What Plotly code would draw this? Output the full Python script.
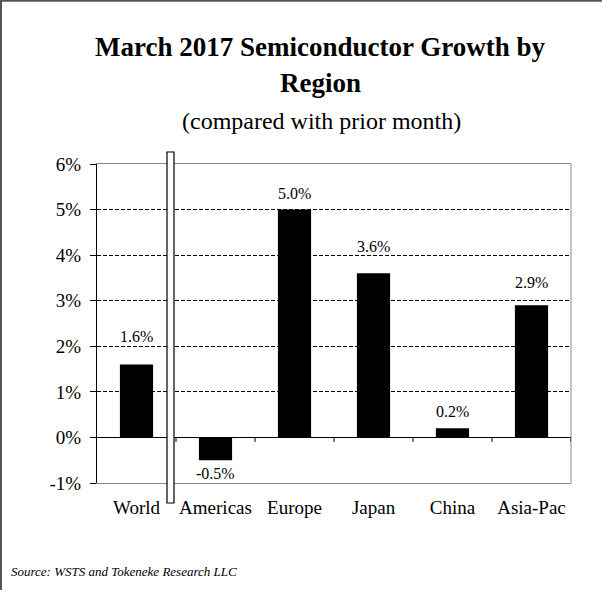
import plotly.graph_objects as go

categories = ["World", "Americas", "Europe", "Japan", "China", "Asia-Pac"]
growth_pct = [1.6, -0.5, 5.0, 3.6, 0.2, 2.9]
label_text = ["1.6%", "-0.5%", "5.0%", "3.6%", "0.2%", "2.9%"]
y_ticks = [-1, 0, 1, 2, 3, 4, 5, 6]
y_tick_text = ["-1%", "0%", "1%", "2%", "3%", "4%", "5%", "6%"]

# label offsets from bar end (pixels), as placed in the original chart
label_offset_px = [28, -13, 16, 27, 17, 23]

W, H = 602, 590
L, R, T, B = 97, 31, 164, 107
PW, PH = W - L - R, H - T - B
SERIF = "Liberation Serif"


def px(xp):
    return (xp - L) / PW


def py(yp):
    return (H - B - yp) / PH


fig = go.Figure()
fig.add_trace(go.Bar(
    x=categories, y=growth_pct,
    marker=dict(color="black", line=dict(color="black", width=0)),
    hoverinfo="skip", showlegend=False,
))

annotations = []
for c, v, t, off in zip(categories, growth_pct, label_text, label_offset_px):
    annotations.append(dict(
        x=c, y=v, xref="x", yref="y", text=t, showarrow=False,
        yshift=off, yanchor="middle",
        font=dict(family=SERIF, size=16, color="black"),
    ))

annotations += [
    dict(x=px(320), y=py(47), xref="paper", yref="paper", showarrow=False,
         text="<b>March 2017 Semiconductor Growth by</b>", xanchor="center", yanchor="middle",
         font=dict(family=SERIF, size=27, color="black")),
    dict(x=px(320), y=py(83), xref="paper", yref="paper", showarrow=False,
         text="<b>Region</b>", xanchor="center", yanchor="middle",
         font=dict(family=SERIF, size=27, color="black")),
    dict(x=px(321), y=py(121), xref="paper", yref="paper", showarrow=False,
         text="(compared with prior month)", xanchor="center", yanchor="middle",
         font=dict(family=SERIF, size=24, color="black")),
    dict(x=px(9), y=py(571), xref="paper", yref="paper", showarrow=False,
         text="<i>Source: WSTS and Tokeneke Research LLC</i>", xanchor="left", yanchor="middle",
         font=dict(family=SERIF, size=13, color="black")),
]

shapes = []
# outer frame
shapes.append(dict(type="rect", xref="paper", yref="paper",
                   x0=px(1), x1=px(640), y0=py(0.8), y1=py(640),
                   line=dict(color="#555555", width=2), fillcolor="rgba(0,0,0,0)", layer="below"))
# right border of plot area
shapes.append(dict(type="line", xref="paper", yref="paper", x0=1, x1=1, y0=0, y1=1,
                   line=dict(color="#888888", width=1)))
# category boundary ticks on the zero line
for i in range(len(categories)):
    shapes.append(dict(type="line", xref="x", yref="y", x0=i + 0.5, x1=i + 0.5,
                       y0=0, y1=-0.1, line=dict(color="black", width=1)))
# vertical separator bar between World and the regions
shapes.append(dict(type="rect", xref="paper", yref="paper",
                   x0=px(167), x1=px(174), y0=py(503), y1=py(152),
                   line=dict(color="black", width=1.2), fillcolor="white", layer="above"))

fig.update_layout(
    width=W, height=H,
    margin=dict(l=L, r=R, t=T, b=B, pad=0),
    paper_bgcolor="white", plot_bgcolor="white",
    bargap=0.58,
    annotations=annotations, shapes=shapes,
    font=dict(family=SERIF, color="black"),
    xaxis=dict(
        range=[-0.5, len(categories) - 0.5], showgrid=False,
        showline=True, linecolor="#888888", linewidth=1, mirror=True,
        ticks="", tickfont=dict(family=SERIF, size=19, color="black"),
        ticklabelstandoff=7, fixedrange=True,
    ),
    yaxis=dict(
        range=[-1, 6], tickvals=y_ticks, ticktext=y_tick_text,
        showgrid=True, gridcolor="black", gridwidth=1, griddash="4px,2px",
        zeroline=True, zerolinecolor="black", zerolinewidth=1,
        showline=True, linecolor="black", linewidth=1,
        ticks="outside", ticklen=6, tickcolor="black",
        tickfont=dict(family=SERIF, size=19, color="black"),
        ticklabelstandoff=5, fixedrange=True,
    ),
)

fig.write_html("out.html")
